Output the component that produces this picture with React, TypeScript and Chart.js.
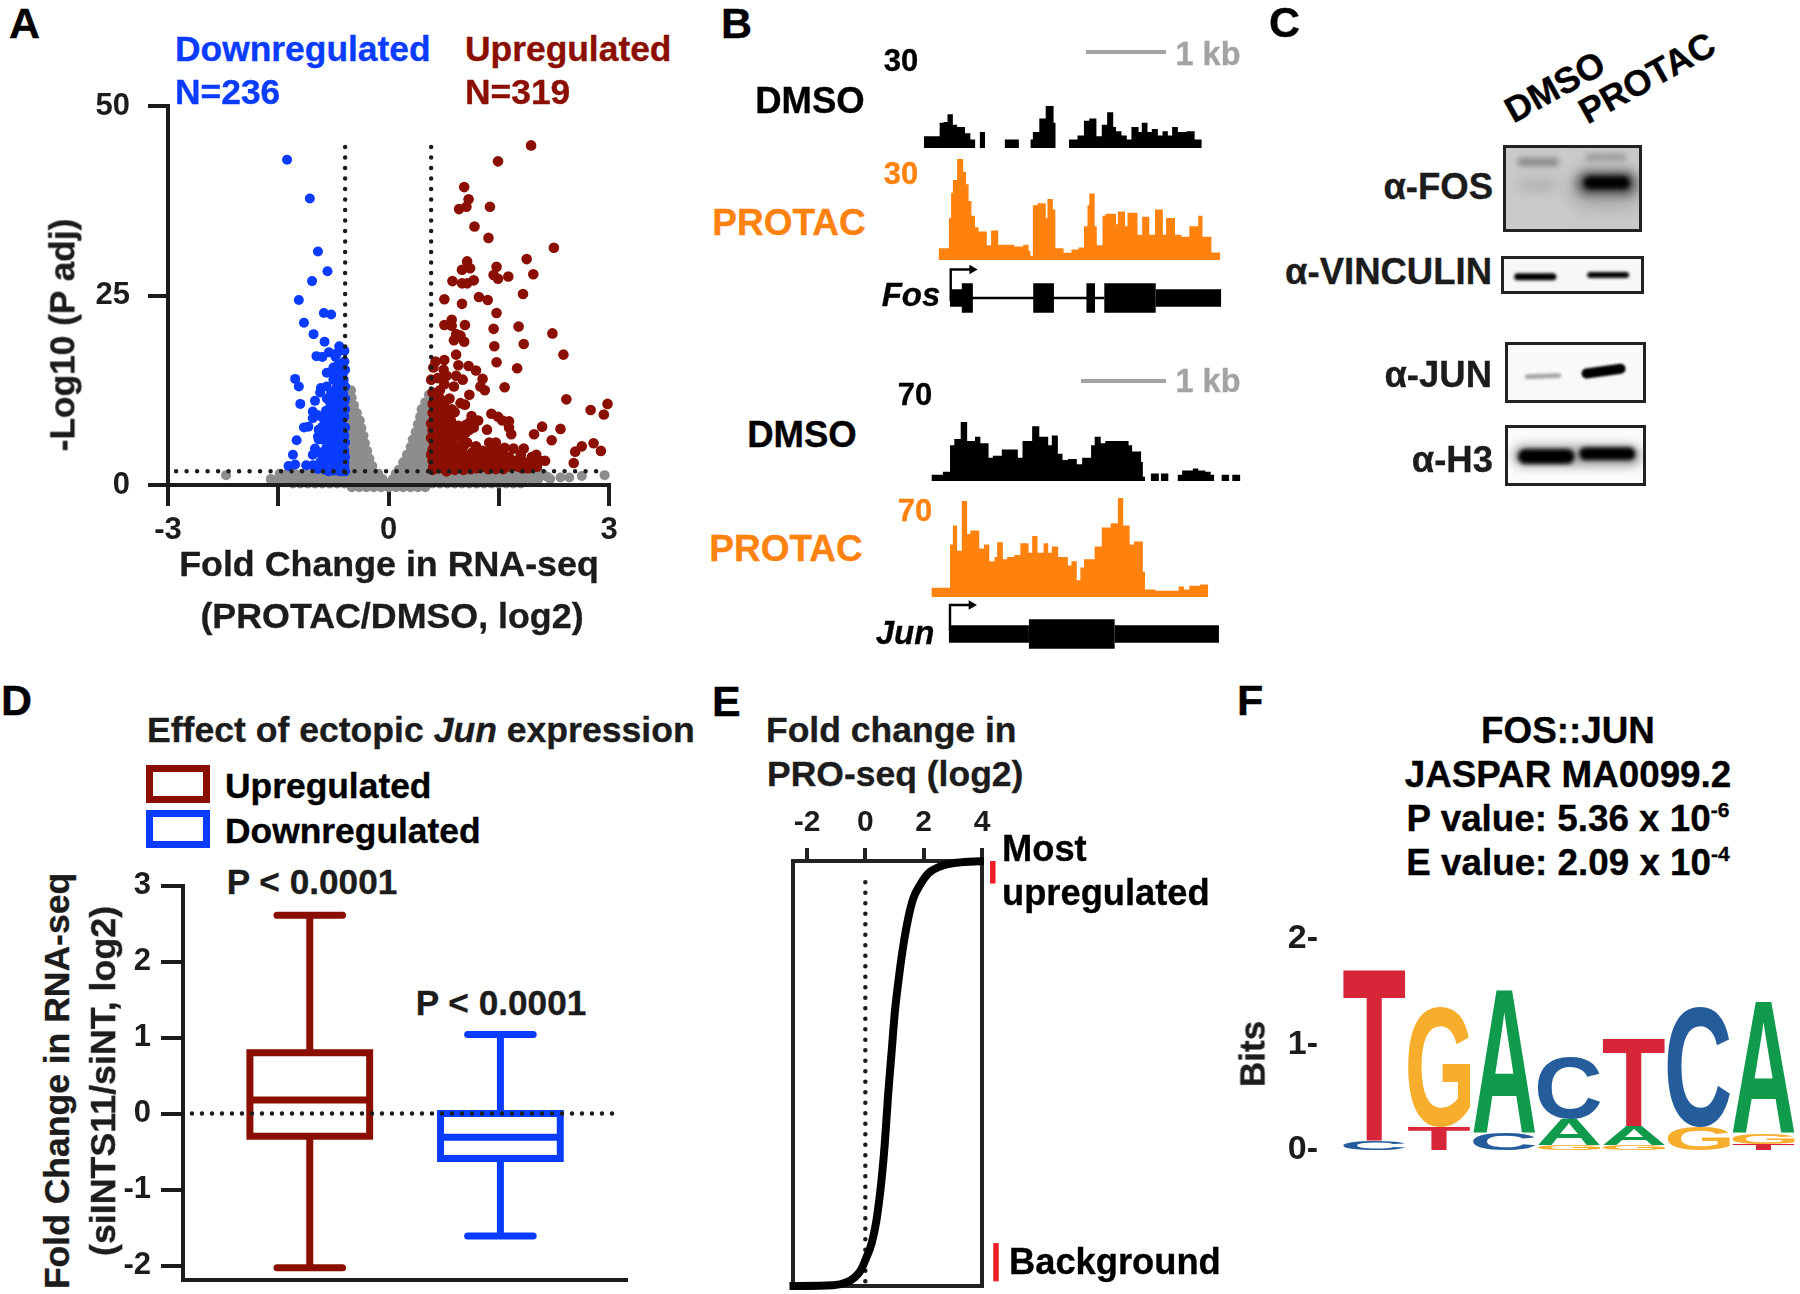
import React, { useEffect, useRef } from "react";
import { Chart, registerables } from "chart.js";

Chart.register(...registerables);

const FONT = '"Liberation Sans"';
const INK = "#1c1c1c";
const BLUE = "#0a3cff";
const RED = "#8b0f00";
const ORANGE = "#ff820f";
const GREY = "#8d8d8d";

/* ---------- Panel A: volcano ---------- */
const volcanoXTicks = [-3, -1.5, 0, 1.5, 3];
const volcanoYTicks = [0, 25, 50];
const foldCutoffs = [-0.59, 0.58];
const foldCutoffTop = 44.6;
const foldCutoffBottom = 0.6;
const pCutoff = 1.8;
const pCutoffFrom = -2.89;
const pCutoffTo = 2.93;

const downPoints = [
  [-1.38,42.9],[-1.07,37.8],[-0.96,30.8],[-0.83,28.2],[-1.04,26.9],[-1.22,24.4],[-0.88,22.7],[-0.78,22.5],[-1.15,21.4],[-1.02,19.9],
  [-0.87,18.9],[-0.67,18.3],[-0.81,17.5],[-0.98,17.0],[-0.9,16.9],[-0.72,16.9],[-0.6,17.7],[-0.69,15.8],[-0.6,16.3],[-0.75,15.5],
  [-0.84,14.8],[-0.65,15.0],[-0.59,15.2],[-1.27,14.0],[-1.22,13.0],[-0.75,13.9],[-0.84,13.0],[-0.69,13.3],[-0.92,12.8],[-0.61,13.9],
  [-0.59,13.0],[-0.78,12.2],[-0.66,12.2],[-0.93,12.2],[-1.0,11.1],[-1.2,10.7],[-0.84,11.4],[-0.69,11.1],[-0.59,11.4],[-0.75,10.6],
  [-1.03,9.7],[-0.96,9.2],[-0.81,10.0],[-0.66,9.7],[-0.59,10.0],[-0.9,8.9],[-0.75,8.9],[-0.63,8.7],[-1.03,8.8],[-1.09,7.7],
  [-1.15,7.6],[-0.95,7.3],[-0.81,7.6],[-0.69,7.6],[-0.59,7.6],[-0.96,6.4],[-0.87,6.7],[-0.75,6.5],[-0.63,6.5],[-1.25,5.9],
  [-0.95,6.0],[-0.81,5.6],[-0.69,5.4],[-0.59,5.6],[-1.0,4.8],[-0.87,4.5],[-0.75,4.3],[-0.63,4.5],[-1.3,4.0],[-1.03,4.0],
  [-0.9,3.5],[-0.78,3.2],[-0.66,3.5],[-0.59,3.7],[-1.27,2.7],[-1.36,2.5],[-1.12,2.6],[-1.03,2.6],[-0.87,2.4],[-0.72,2.4],
  [-0.6,2.5],[-0.81,1.8],[-0.96,2.1],[-0.66,1.8],[-0.59,1.8],[-0.7,3.0],[-0.65,2.6],[-0.72,6.0],[-0.66,5.5],[-0.62,7.0],
  [-0.7,8.2],[-0.65,10.5],[-0.72,11.8],[-0.62,12.2],[-0.78,8.0],[-0.8,9.0],[-0.72,9.5],[-0.85,9.8],[-0.85,7.0],[-0.78,5.5],
  [-0.83,3.6],[-0.7,4.8],[-0.6,3.0],[-0.6,4.5],[-0.6,6.5],[-0.6,9.0],[-0.6,11.0],[-0.66,14.2],[-0.73,14.6],[-0.62,14.7],
  [-0.68,2.1],[-0.74,2.8],[-0.76,3.7],[-0.68,4.1],[-0.72,5.2],[-0.65,6.1],[-0.7,6.9],[-0.66,7.4],[-0.64,8.0],[-0.68,8.9],
  [-0.62,9.4],[-0.7,10.1],[-0.64,11.3],[-0.72,12.5],[-0.7,13.0],[-0.64,13.0],[-0.8,6.4],[-0.77,7.1],[-0.83,8.2],[-0.9,6.0],
  [-0.92,4.2],[-0.84,5.0],[-0.8,4.1],[-0.9,7.7],[-0.8,11.0],[-0.86,2.0],[-0.74,1.9],[-0.93,3.0],[-0.64,15.9],[-0.7,17.4],
];

const upPoints = [
  [1.94,44.8],[1.49,42.7],[1.03,39.3],[1.09,37.7],[1.06,36.7],[0.96,36.4],[1.38,36.7],[1.17,34.1],[1.36,32.6],[2.25,31.3],
  [1.88,29.8],[1.07,29.5],[1.47,28.8],[1.0,28.4],[1.11,28.6],[1.43,27.7],[1.49,27.2],[1.63,27.5],[1.97,27.8],[0.87,26.9],
  [1.0,26.6],[1.07,26.6],[1.16,27.0],[1.83,25.2],[0.76,24.5],[1.23,24.8],[1.35,24.4],[1.0,23.9],[1.47,22.7],[0.86,21.8],
  [0.76,21.1],[0.86,21.0],[1.04,21.1],[1.77,20.9],[1.43,20.6],[2.23,20.0],[0.92,19.9],[0.98,19.7],[0.89,19.1],[1.03,18.9],
  [1.84,18.6],[1.44,18.3],[2.38,17.2],[0.92,17.2],[0.76,16.5],[0.64,16.3],[1.47,16.2],[1.75,15.4],[1.09,15.7],[0.95,15.8],
  [1.19,15.1],[0.75,15.2],[0.61,15.5],[0.92,14.4],[0.79,14.4],[1.01,13.9],[0.67,14.1],[0.58,13.9],[1.28,14.0],[1.25,13.0],
  [1.58,12.9],[1.31,12.5],[0.76,13.3],[0.89,13.0],[0.7,12.5],[0.6,12.2],[1.1,11.9],[0.98,10.8],[0.83,11.4],[0.7,11.4],
  [2.42,11.3],[0.86,10.0],[0.9,9.6],[1.04,10.6],[2.98,10.7],[2.75,9.9],[2.93,9.3],[1.4,9.4],[1.49,9.0],[1.13,9.1],
  [1.64,8.4],[1.55,8.5],[2.09,7.7],[2.34,7.4],[1.98,6.7],[2.22,5.9],[1.64,7.6],[1.22,8.5],[1.1,8.2],[1.16,7.6],
  [1.34,7.3],[1.67,6.7],[1.1,7.3],[2.63,5.1],[2.79,5.5],[2.89,4.5],[2.54,4.4],[2.52,2.9],[2.13,3.2],[1.95,3.7],
  [1.84,4.8],[2.01,4.0],[1.8,4.0],[1.7,4.8],[1.58,4.9],[1.46,5.6],[1.37,5.6],[1.19,5.1],[1.28,4.5],[1.64,3.7],
  [1.52,4.5],[1.4,4.8],[1.77,2.4],[1.98,2.6],[1.55,2.9],[1.31,3.2],[1.16,3.7],[1.04,4.0],[1.07,5.6],[0.95,6.7],
  [0.95,7.8],[0.83,7.3],[0.7,8.7],[0.58,8.1],[0.58,6.2],[0.7,7.0],[0.79,5.9],[0.64,5.1],[0.92,5.1],[0.83,4.3],
  [0.7,4.0],[0.58,4.0],[0.98,3.7],[1.1,2.9],[1.25,2.6],[1.4,2.4],[1.67,2.4],[0.92,2.6],[0.76,2.6],[0.61,2.4],
  [0.79,1.8],[0.6,9.5],[0.62,8.8],[0.66,9.8],[0.74,9.2],[0.8,9.6],[0.66,7.6],[0.76,8.0],[0.85,8.5],[0.62,6.8],
  [0.72,6.0],[0.85,6.4],[0.9,7.0],[0.62,5.4],[0.7,5.2],[0.82,5.2],[0.87,5.8],[0.6,3.2],[0.66,3.6],[0.74,3.4],
  [0.88,3.6],[0.62,2.4],[0.68,2.2],[0.74,2.2],[0.85,2.4],[0.9,2.0],[0.98,2.2],[1.05,2.4],[1.0,3.0],[1.1,3.6],
  [1.15,2.6],[1.22,3.6],[1.3,2.4],[1.35,3.6],[1.45,3.4],[1.5,2.4],[1.6,3.0],[1.7,3.2],[1.85,3.0],[1.9,2.2],
  [0.6,7.2],[0.65,6.1],[0.68,4.6],[0.6,4.7],[0.77,4.8],[0.78,3.0],[0.83,3.1],[0.94,3.2],[0.92,4.2],[0.98,4.6],
  [1.02,5.1],[1.0,6.2],[1.05,6.9],[0.78,6.8],[0.73,7.6],[0.88,7.7],[0.6,10.7],[0.68,10.4],[0.76,10.4],[0.65,11.0],
  [0.72,9.9],[1.06,3.1],[1.14,4.3],[1.2,3.0],[1.26,3.2],[1.24,4.1],[1.32,4.0],[1.38,3.0],[1.44,2.7],[1.44,4.1],
  [1.5,3.4],[1.56,3.8],[1.6,2.4],[1.72,2.6],[1.78,3.4],[1.94,2.9],[2.02,2.4],[2.06,3.2],[1.02,2.0],[1.12,2.1],
  [1.2,2.2],[1.36,2.1],[1.46,2.1],[1.56,2.1],[1.82,2.2],[0.6,2.0],[0.68,3.0],[0.74,4.2],[0.82,2.6],[1.05,7.9],
];

/* each row: y value, then the x values seen at that height */
const greyRows = [
  [12.5,-0.51],[11.9,0.55],[11.5,-0.56,-0.5],[10.9,0.5,0.55],
  [10.5,-0.57,-0.52,-0.47],[10,0.45,0.5,0.56],
  [9.5,-0.57,-0.52,-0.46,-0.43],[9,0.43,0.48,0.53,0.57],
  [8.5,-0.57,-0.52,-0.47,-0.42,-0.39],[8,0.4,0.45,0.5,0.55],
  [7.5,-0.57,-0.52,-0.47,-0.42,-0.37],[7,0.37,0.42,0.47,0.52,0.57],
  [6.5,-0.57,-0.52,-0.47,-0.42,-0.37,-0.34],[6,0.33,0.38,0.43,0.48,0.53,0.57],
  [5.5,-0.57,-0.52,-0.47,-0.42,-0.37,-0.32],[5,0.3,0.35,0.4,0.45,0.5,0.55],
  [4.5,-0.57,-0.52,-0.47,-0.42,-0.37,-0.32,-0.29],[4,0.25,0.3,0.35,0.4,0.45,0.5,0.55],
  [3.5,-0.57,-0.52,-0.47,-0.42,-0.37,-0.32,-0.26],[3,0.2,0.25,0.3,0.35,0.4,0.45,0.5,0.55],
  [2.5,-0.57,-0.52,-0.47,-0.42,-0.37,-0.32,-0.27,-0.22],[2,0.14,0.2,0.25,0.3,0.35,0.4,0.45,0.5,0.55],
  [1.5,-1.48,-1.38,-1.28,-1.18,-1.08,-0.98,-0.88,-0.78,-0.68,-0.58,-0.48,-0.38,-0.28,-0.2,-0.14,0.1,0.2,0.3,0.4,0.5,0.6,0.7,0.8,0.9,1.0,1.1,1.2,1.3,1.4,1.5,1.6,1.7,1.8,1.9,2.0,2.1],
  [0.8,-1.6,-1.5,-1.4,-1.3,-1.2,-1.1,-1.0,-0.9,-0.8,-0.7,-0.6,-0.5,-0.4,-0.3,-0.2,-0.12,-0.08,0.06,0.14,0.24,0.34,0.44,0.54,0.64,0.74,0.84,0.94,1.04,1.14,1.24,1.34,1.44,1.54,1.64,1.74,1.84,1.94,2.04,2.2],
  [0.2,-1.3,-1.2,-1.1,-1.0,-0.9,-0.8,-0.7,-0.6,-0.5,-0.4,-0.3,-0.2,-0.1,0.0,0.1,0.2,0.3,0.4,0.5,0.6,0.7,0.8,0.9,1.0,1.1,1.2,1.3,1.4,1.5,1.6,1.7,1.8],
  [-0.3,-0.5,-0.4,-0.3,-0.2,-0.1,0.0,0.1,0.2,0.3,0.4,0.5],
  [1.3,-2.21,2.94],[0.7,-1.6],[1.1,2.16],[1.0,2.34,2.46],[1.2,2.63],
];

/* ---------- Panel B: browser tracks, [bin start, signal]; null = no signal ---------- */
const fosDmso = [[627,28],[671,60],[682,62],[693,80],[708,55],[720,50],[742,35],[757,20],[771,null],[783,38],[798,null],[853,20],[893,null],[925,20],[932,38],[950,70],[968,100],[990,60],[996,null],[1033,20],[1057,30],[1075,65],[1090,70],[1110,28],[1125,55],[1140,85],[1157,50],[1165,40],[1180,30],[1195,20],[1208,50],[1228,38],[1237,60],[1253,38],[1265,45],[1282,30],[1295,40],[1310,30],[1322,50],[1338,38],[1362,40],[1385,20],[1405,null]];
const fosProtac = [[668,28],[697,100],[703,160],[708,190],[720,240],[737,210],[745,180],[752,140],[760,105],[770,78],[780,68],[803,35],[815,70],[835,36],[880,32],[905,36],[920,22],[925,10],[932,130],[945,135],[968,100],[973,145],[988,120],[995,28],[1018,17],[1040,25],[1060,30],[1075,80],[1085,130],[1090,158],[1105,80],[1111,35],[1127,105],[1135,110],[1165,85],[1170,115],[1190,80],[1197,112],[1225,60],[1238,103],[1258,60],[1274,120],[1296,60],[1305,100],[1330,60],[1348,55],[1370,80],[1395,105],[1407,55],[1432,18],[1457,null]];
const junDmso = [[648,15],[680,22],[700,85],[712,100],[730,140],[748,95],[770,105],[785,90],[808,55],[820,60],[845,75],[890,55],[903,95],[930,130],[950,105],[975,85],[985,108],[1002,65],[1015,50],[1030,52],[1055,40],[1070,55],[1095,85],[1105,105],[1122,90],[1135,95],[1200,85],[1210,70],[1235,45],[1240,10],[1246,null],[1262,18],[1285,null],[1290,18],[1312,null],[1337,15],[1350,25],[1380,30],[1395,25],[1415,22],[1430,15],[1440,null],[1460,15],[1482,null],[1490,15],[1513,null]];
const junProtac = [[648,22],[700,125],[708,170],[720,110],[733,228],[748,150],[757,158],[782,115],[795,125],[810,85],[825,95],[832,130],[848,90],[860,95],[880,100],[897,128],[920,105],[930,145],[945,105],[962,128],[975,105],[985,120],[1003,95],[1030,75],[1040,85],[1055,40],[1065,70],[1075,90],[1105,120],[1125,165],[1150,175],[1170,235],[1185,170],[1203,125],[1215,132],[1240,60],[1246,18],[1275,15],[1340,25],[1355,18],[1370,27],[1400,30],[1423,null]];

const fosUtrBlocks = [[700,735],[1276,1459]];
const fosExonBlocks = [[733,764],[933,991],[1082,1106],[1132,1276]];
const fosIntron = [735, 1132];
const fosTss = [[702,46],[702,14.5],[762,14.5]];
const junUtrBlocks = [[697,921],[1161,1453]];
const junExonBlocks = [[921,1161]];
const junTss = [[700,41],[700,15],[760,15]];

/* ---------- Panel C: blots, [x0, x1, y0, y1, thickness, colour, blur] ---------- */
const blotFos = [
  [990,1090,548,548,13,"#000000",2.5],[985,1095,550,550,24,"#5a5a5a",5],[985,1095,565,565,40,"#aaaaaa",9],
  [985,1090,472,472,6,"#8f8f8f",3],[782,885,485,485,7,"#7d7d7d",3],[790,870,555,555,12,"#b0b0b0",6],
];
const blotVinculin = [[772,878,830,830,7,"#000000",1.5],[990,1098,825,825,6,"#050505",1.5]];
const blotJun = [[800,895,1130,1126,4.5,"#a0a0a0",1.8],[978,1080,1120,1106,10,"#000000",1.2]];
const blotH3 = [[795,920,1370,1370,15,"#000000",2],[975,1105,1362,1362,13,"#000000",2],[790,1110,1368,1368,22,"#a8a8a8",5]];

/* ---------- Panel D: box plots ---------- */
const boxGroups = [1, 2];
const boxColors = [RED, BLUE];
const boxMax = [2.61, 1.04];
const boxQ3 = [0.8, 0.0];
const boxMedian = [0.18, -0.31];
const boxQ1 = [-0.3, -0.59];
const boxMin = [-2.03, -1.61];
const boxYTicks = [-2, -1, 0, 1, 2, 3];

/* ---------- Panel E: ranked fold change ---------- */
const rankFoldChange = [-2.6,-1.11,-0.66,-0.37,-0.14,0.03,0.21,0.38,0.55,0.67,0.78,0.9,1.01,1.15,1.3,1.47,1.64,1.87,2.16,2.56,3.14,4.06];
const rankPercent = [0,0.18,0.83,2.0,3.9,6.6,9.9,15.4,24.6,33.8,44.9,55.0,64.3,72.6,80.0,86.5,91.1,94.3,97.1,98.7,99.6,100];
const rankXTicks = [-2, 0, 2, 4];

/* ---------- Panel F: sequence logo, stacked from the baseline up ---------- */
const logoPositions = ["1", "2", "3", "4", "5", "6", "7"];
const logoLetters = [
  ["C", "T", "C", "G", "G", "G", "T"],
  ["T", "G", "A", "A", "A", "C", "G"],
  ["",  "",  "",  "C", "T", "",  "A"],
];
const logoBits = [
  [0.085, 0.22, 0.16, 0.05, 0.05, 0.22, 0.06],
  [1.62, 1.13, 1.35, 0.24, 0.18, 1.13, 0.1],
  [0, 0, 0, 0.58, 0.83, 0, 1.24],
];
const logoColors: any = { T: "#d72638", G: "#f7ae2d", A: "#0f9a4c", C: "#255c9c" };

/* ---------- helpers ---------- */
const base = (padding: any, extra: any = {}) => ({
  animation: false,
  responsive: false,
  maintainAspectRatio: false,
  layout: { padding, autoPadding: false },
  plugins: { legend: { display: false }, tooltip: { enabled: false } },
  ...extra,
});

const noPad = (s: any) => { s.paddingTop = 0; s.paddingBottom = 0; s.paddingLeft = 0; s.paddingRight = 0; };

const tickFont = (size: number) => ({ family: FONT, weight: "bold", size });

const lineSet = (data: any[], color: string, width: number, extra: any = {}) => ({
  type: "scatter",
  data,
  showLine: true,
  tension: 0,
  borderColor: color,
  borderWidth: width,
  pointRadius: 0,
  clip: false,
  ...extra,
});

const dotted = (data: any[], width = 4.5, gap = 10.5) =>
  lineSet(data, "#1c1c1c", width, { borderDash: [0, gap], borderCapStyle: "round" });

const dots = (data: any[], color: string, r: number) => ({
  type: "scatter",
  data,
  pointRadius: r,
  pointBackgroundColor: color,
  pointBorderWidth: 0,
  clip: false,
});

const xy = (pairs: number[][]) => pairs.map(([x, y]) => ({ x, y }));

const volcanoConfig = () => {
  const greyPoints: any[] = [];
  greyRows.forEach(([y, ...xs]) => xs.forEach((x) => greyPoints.push({ x, y })));
  return {
    type: "scatter",
    data: {
      datasets: [
        dotted([{ x: foldCutoffs[0], y: foldCutoffTop }, { x: foldCutoffs[0], y: foldCutoffBottom }]),
        dotted([{ x: foldCutoffs[1], y: foldCutoffTop }, { x: foldCutoffs[1], y: foldCutoffBottom }]),
        dotted([{ x: pCutoffFrom, y: pCutoff }, { x: pCutoffTo, y: pCutoff }]),
        dots(xy(upPoints), RED, 5.3),
        dots(xy(downPoints), BLUE, 5),
        dots(greyPoints, GREY, 5),
      ],
    },
    options: base({ top: 16, right: 31, left: 0, bottom: 0 }, {
      scales: {
        x: {
          type: "linear", min: -3, max: 3,
          afterFit: (s: any) => { s.height = 60; noPad(s); },
          afterBuildTicks: (s: any) => { s.ticks = volcanoXTicks.map((value) => ({ value })); },
          grid: { drawOnChartArea: false, color: INK, lineWidth: 4, tickLength: 21 },
          border: { display: true, color: INK, width: 4, z: 1 },
          ticks: { color: INK, font: tickFont(31), padding: 6, maxRotation: 0, autoSkip: false,
            callback: (v: number) => (Math.abs(v) === 1.5 ? "" : String(v)) },
        },
        y: {
          type: "linear", min: 0, max: 50,
          afterFit: (s: any) => { s.width = 88; noPad(s); },
          afterBuildTicks: (s: any) => { s.ticks = volcanoYTicks.map((value) => ({ value })); },
          grid: { drawOnChartArea: false, color: INK, lineWidth: 4, tickLength: 20 },
          border: { display: true, color: INK, width: 4, z: 1 },
          ticks: { color: INK, font: tickFont(31), padding: 18, callback: (v: number) => String(v) },
        },
      },
    }),
  };
};

const toSteps = (segs: any[]) => {
  const pts: any[] = [];
  segs.forEach(([s, v]: any, i: number) => {
    if (v === null) { pts.push({ x: s, y: null }); return; }
    pts.push({ x: s, y: v }, { x: segs[i + 1][0], y: v });
  });
  return pts;
};

const hiddenScales = (xMin: number, xMax: number, yMin: number, yMax: number, reverse = false) => ({
  x: { type: "linear", display: false, min: xMin, max: xMax },
  y: { type: "linear", display: false, min: yMin, max: yMax, reverse },
});

const trackConfig = (segs: any[], color: string) => ({
  type: "scatter",
  data: {
    datasets: [
      lineSet(toSteps(segs), color, 0, { fill: "origin", backgroundColor: color, clip: true }),
    ],
  },
  options: base(0, { scales: hiddenScales(599.2, 1528.8, 0, 261.4) }),
});

const geneConfig = (exons: number[][], utrs: number[][], intron: number[] | null, tss: number[][], centre: number) => {
  const row = (a: number, b: number) => [{ x: a, y: centre }, { x: b, y: centre }];
  const datasets: any[] = [];
  exons.forEach(([a, b]) => datasets.push(lineSet(row(a, b), "#000", 29.5)));
  utrs.forEach(([a, b]) => datasets.push(lineSet(row(a, b), "#000", 17.5)));
  if (intron) datasets.push(lineSet(row(intron[0], intron[1]), "#000", 2.6));
  datasets.push(
    lineSet(xy(tss), "#000", 2.4, {
      pointRadius: tss.map((_, i) => (i === tss.length - 1 ? 5.5 : 0)),
      pointStyle: "triangle",
      pointRotation: 90,
      pointBackgroundColor: "#000",
      pointBorderWidth: 0,
    })
  );
  return {
    type: "scatter",
    data: { datasets },
    options: base(0, { scales: hiddenScales(599.2, 1528.8, 0, 70, true) }),
  };
};

const blurPlugin = {
  id: "bandBlur",
  beforeDatasetDraw(chart: any, args: any) {
    const ds = chart.data.datasets[args.index];
    chart.ctx.save();
    chart.ctx.filter = `blur(${ds.bandBlur || 0}px)`;
  },
  afterDatasetDraw(chart: any) {
    chart.ctx.restore();
  },
};

const blotConfig = (bands: any[], range: number[]) => ({
  type: "scatter",
  data: {
    datasets: bands.map(([x0, x1, y0, y1, w, c, b]) =>
      lineSet([{ x: x0, y: y0 }, { x: x1, y: y1 }], c, w, { borderCapStyle: "round", bandBlur: b, clip: true })
    ),
  },
  options: base(0, { scales: hiddenScales(range[0], range[1], range[2], range[3], true) }),
  plugins: [blurPlugin],
});

const boxConfig = () => {
  const datasets: any[] = [
    dotted([{ x: 0.382, y: 0 }, { x: 2.63, y: 0 }], 4.5, 10),
  ];
  boxGroups.forEach((g, i) => {
    const c = boxColors[i];
    const hw = 0.314;
    const cw = 0.172;
    const w = 7;
    datasets.push(
      lineSet([{ x: g - hw, y: boxQ1[i] }, { x: g - hw, y: boxQ3[i] }, { x: g + hw, y: boxQ3[i] }, { x: g + hw, y: boxQ1[i] }, { x: g - hw, y: boxQ1[i] }], c, w, { borderJoinStyle: "miter", borderCapStyle: "square" }),
      lineSet([{ x: g - hw, y: boxMedian[i] }, { x: g + hw, y: boxMedian[i] }], c, w),
      lineSet([{ x: g, y: boxQ3[i] }, { x: g, y: boxMax[i] }], c, w),
      lineSet([{ x: g, y: boxQ1[i] }, { x: g, y: boxMin[i] }], c, w),
      lineSet([{ x: g - cw, y: boxMax[i] }, { x: g + cw, y: boxMax[i] }], c, w, { borderCapStyle: "round" }),
      lineSet([{ x: g - cw, y: boxMin[i] }, { x: g + cw, y: boxMin[i] }], c, w, { borderCapStyle: "round" })
    );
  });
  return {
    type: "scatter",
    data: { datasets },
    options: base({ top: 15.6, right: 13, left: 0, bottom: 14 }, {
      scales: {
        x: {
          type: "linear", min: 0.335, max: 2.664,
          afterFit: (s: any) => { s.height = 0; noPad(s); },
          grid: { display: false },
          border: { display: true, color: INK, width: 4 },
          ticks: { display: false },
        },
        y: {
          type: "linear", min: -2.19, max: 3,
          afterFit: (s: any) => { s.width = 63; noPad(s); },
          afterBuildTicks: (s: any) => { s.ticks = boxYTicks.map((value) => ({ value })); },
          grid: { drawOnChartArea: false, color: INK, lineWidth: 4, tickLength: 22 },
          border: { display: true, color: INK, width: 4 },
          ticks: { color: INK, font: tickFont(31), padding: 10, callback: (v: number) => String(v) },
        },
      },
    }),
  };
};

const rankConfig = () => ({
  type: "scatter",
  data: {
    datasets: [
      lineSet(rankFoldChange.map((x, i) => ({ x, y: rankPercent[i] })), "#000", 8, { cubicInterpolationMode: "monotone" }),
      dotted([{ x: 0, y: 95 }, { x: 0, y: 0 }], 4.5, 10.5),
      lineSet([{ x: -2.48, y: 0 }, { x: -2.48, y: 100 }, { x: 4, y: 100 }, { x: 4, y: 0 }, { x: -2.48, y: 0 }], "#222", 4, { borderJoinStyle: "miter" }),
      lineSet([{ x: 4.37, y: 94.7 }, { x: 4.37, y: 100 }], "#ee1c25", 5.5),
      lineSet([{ x: 4.48, y: 1.1 }, { x: 4.48, y: 10.1 }], "#ee1c25", 5.5),
    ],
  },
  options: base({ top: 0, right: 38, left: 13, bottom: 8 }, {
    scales: {
      x: {
        type: "linear", position: "top", min: -2.48, max: 4,
        afterFit: (s: any) => { s.height = 61; noPad(s); },
        afterBuildTicks: (s: any) => { s.ticks = rankXTicks.map((value) => ({ value })); },
        grid: { drawOnChartArea: false, color: "#222", lineWidth: 4, tickLength: 13 },
        border: { display: false },
        ticks: { color: INK, font: tickFont(30), padding: 7, callback: (v: number) => String(v) },
      },
      y: { type: "linear", display: false, min: 0, max: 100 },
    },
  }),
});

const letterPlugin = {
  id: "logoLetters",
  afterDatasetsDraw(chart: any) {
    const ctx = chart.ctx;
    chart.data.datasets.forEach((ds: any, di: number) => {
      chart.getDatasetMeta(di).data.forEach((bar: any, j: number) => {
        const letter = ds.letters[j];
        if (!letter || !ds.data[j]) return;
        ctx.save();
        ctx.font = `bold 200px ${FONT}`;
        ctx.textBaseline = "alphabetic";
        const m = ctx.measureText(letter);
        const gw = m.actualBoundingBoxLeft + m.actualBoundingBoxRight;
        const gh = m.actualBoundingBoxAscent + m.actualBoundingBoxDescent;
        const h = Math.abs(bar.base - bar.y);
        ctx.translate(bar.x - bar.width / 2, Math.min(bar.y, bar.base));
        ctx.scale(bar.width / gw, h / gh);
        ctx.fillStyle = logoColors[letter];
        ctx.fillText(letter, m.actualBoundingBoxLeft, m.actualBoundingBoxAscent);
        ctx.restore();
      });
    });
  },
};

const logoConfig = () => ({
  type: "bar",
  data: {
    labels: logoPositions,
    datasets: logoBits.map((data, i) => ({
      data,
      letters: logoLetters[i],
      backgroundColor: "rgba(0,0,0,0)",
      barPercentage: 0.96,
      categoryPercentage: 1,
    })),
  },
  options: base({ top: 13.7, right: 4, left: 0, bottom: 15 }, {
    scales: {
      x: { stacked: true, display: false },
      y: {
        stacked: true, min: 0, max: 2,
        afterFit: (s: any) => { s.width = 72; noPad(s); },
        grid: { display: false },
        border: { display: false },
        ticks: { stepSize: 1, color: INK, font: tickFont(34), padding: 16, callback: (v: number) => `${v}-` },
      },
    },
  }),
  plugins: [letterPlugin],
});

function Plot({ x, y, w, h, config, style }: any) {
  const ref = useRef<HTMLCanvasElement>(null);
  useEffect(() => {
    const c = new Chart(ref.current as any, config());
    return () => c.destroy();
  }, []);
  return <canvas ref={ref} width={w} height={h} style={{ position: "absolute", left: x, top: y, width: w, height: h, ...style }} />;
}

function T({ x, y, size = 36, color = INK, italic, anchor = "start", rot = 0, children }: any) {
  const tx = anchor === "middle" ? -50 : anchor === "end" ? -100 : 0;
  return (
    <div
      style={{
        position: "absolute", left: x, top: y, color, whiteSpace: "nowrap", lineHeight: 1,
        font: `${italic ? "italic " : ""}bold ${size}px/1 ${FONT}`,
        WebkitTextStroke: `0.35px ${color}`,
        transform: `translate(${tx}%,-50%) rotate(${rot}deg)`,
      }}
    >
      {children}
    </div>
  );
}

const Sup = ({ children }: any) => (
  <sup style={{ fontSize: 21, lineHeight: 0, verticalAlign: "baseline", position: "relative", top: -14 }}>{children}</sup>
);

const Frame = ({ x, y, w, h, color = "#222", width = 3.5 }: any) => (
  <div style={{ position: "absolute", left: x, top: y, width: w, height: h, boxSizing: "border-box", border: `${width}px solid ${color}` }} />
);

const Bar = ({ x, y, w }: any) => (
  <div style={{ position: "absolute", left: x, top: y, width: w, height: 3.5, background: "#a3a3a3" }} />
);

export default function App() {
  return (
    <div style={{ position: "absolute", left: 0, top: 0, width: 1800, height: 1294, background: "#fff", overflow: "hidden" }}>
      {/* A */}
      <T x={9} y={23} size={43} color="#000">A</T>
      <Plot x={80} y={90} w={560} h={455} config={volcanoConfig} />
      <T x={175} y={50} size={35.4} color={BLUE}>Downregulated</T>
      <T x={175} y={93} size={35.4} color={BLUE}>N=236</T>
      <T x={465} y={50} size={35.4} color={RED}>Upregulated</T>
      <T x={465} y={93} size={35.4} color={RED}>N=319</T>
      <T x={389} y={565} size={35.8} anchor="middle">Fold Change in RNA-seq</T>
      <T x={392} y={617} size={35.8} anchor="middle">(PROTAC/DMSO, log2)</T>
      <T x={62} y={335} size={35.3} anchor="middle" rot={-90}>-Log10 (P adj)</T>

      {/* B */}
      <T x={721} y={23} size={43} color="#000">B</T>
      <Plot x={914} y={38} w={332} h={110} config={() => trackConfig(fosDmso, "#000")} />
      <Plot x={914} y={150} w={332} h={110} config={() => trackConfig(fosProtac, ORANGE)} />
      <Plot x={914} y={255} w={332} h={70} config={() => geneConfig(fosExonBlocks, fosUtrBlocks, fosIntron, fosTss, 43)} />
      <Plot x={914} y={371} w={332} h={110} config={() => trackConfig(junDmso, "#000")} />
      <Plot x={914} y={487} w={332} h={110} config={() => trackConfig(junProtac, ORANGE)} />
      <Plot x={914} y={590} w={332} h={70} config={() => geneConfig(junExonBlocks, junUtrBlocks, null, junTss, 44)} />
      <T x={901} y={60} size={31} color="#000" anchor="middle">30</T>
      <T x={810} y={101} size={36.5} color="#000" anchor="middle">DMSO</T>
      <T x={901} y={173} size={31} color={ORANGE} anchor="middle">30</T>
      <T x={789} y={222} size={37} color={ORANGE} anchor="middle">PROTAC</T>
      <T x={911} y={294} size={33} color="#000" anchor="middle" italic>Fos</T>
      <Bar x={1086} y={50} w={80} />
      <T x={1208} y={54} size={32.5} color="#a3a3a3" anchor="middle">1 kb</T>
      <T x={915} y={394} size={31} color="#000" anchor="middle">70</T>
      <T x={802} y={435} size={36.5} color="#000" anchor="middle">DMSO</T>
      <T x={915} y={510} size={31} color={ORANGE} anchor="middle">70</T>
      <T x={786} y={548} size={37} color={ORANGE} anchor="middle">PROTAC</T>
      <T x={905} y={632} size={33} color="#000" anchor="middle" italic>Jun</T>
      <Bar x={1081} y={379} w={85} />
      <T x={1208} y={381} size={32.5} color="#a3a3a3" anchor="middle">1 kb</T>

      {/* C */}
      <T x={1269} y={22} size={43} color="#000">C</T>
      <T x={1555} y={87} size={36} color="#000" anchor="middle" rot={-29}>DMSO</T>
      <T x={1647} y={78} size={36} color="#000" anchor="middle" rot={-29}>PROTAC</T>
      <Plot x={1503} y={145} w={139} h={87} config={() => blotConfig(blotFos, [728, 1146, 434, 696])} style={{ background: "#cacaca" }} />
      <Frame x={1503} y={145} w={139} h={87} />
      <Plot x={1501} y={256} w={143} h={38} config={() => blotConfig(blotVinculin, [722, 1152, 768, 882])} style={{ background: "#f7f7f7" }} />
      <Frame x={1501} y={256} w={143} h={38} />
      <Plot x={1505} y={342} w={141} h={61} config={() => blotConfig(blotJun, [734, 1156, 1026, 1208])} style={{ background: "#f9f9f9" }} />
      <Frame x={1505} y={342} w={141} h={61} />
      <Plot x={1505} y={425} w={141} h={61} config={() => blotConfig(blotH3, [734, 1156, 1276, 1458])} style={{ background: "#fbfbfb" }} />
      <Frame x={1505} y={425} w={141} h={61} />
      <T x={1493} y={187} size={36.5} color={INK} anchor="end">α-FOS</T>
      <T x={1492} y={272} size={36.5} color={INK} anchor="end">α-VINCULIN</T>
      <T x={1492} y={375} size={36.5} color={INK} anchor="end">α-JUN</T>
      <T x={1493} y={460} size={36.5} color={INK} anchor="end">α-H3</T>

      {/* D */}
      <T x={1} y={700} size={43} color="#000">D</T>
      <T x={147} y={731} size={35.6}>Effect of ectopic <i>Jun</i> expression</T>
      <Frame x={146} y={765} w={64} h={38} color={RED} width={7} />
      <Frame x={146} y={810} w={64} h={38} color={BLUE} width={7} />
      <T x={225} y={787} size={35.4} color="#000">Upregulated</T>
      <T x={225} y={832} size={35.4} color="#000">Downregulated</T>
      <T x={312} y={882} size={35.2} anchor="middle">P &lt; 0.0001</T>
      <T x={501} y={1003} size={35.2} anchor="middle">P &lt; 0.0001</T>
      <Plot x={120} y={870} w={520} h={424} config={boxConfig} />
      <T x={58} y={1081} size={35.5} anchor="middle" rot={-90}>Fold Change in RNA-seq</T>
      <T x={104} y={1081} size={35.8} anchor="middle" rot={-90}>(siINTS11/siNT, log2)</T>

      {/* E */}
      <T x={712} y={701} size={43} color="#000">E</T>
      <T x={766} y={731} size={35.5}>Fold change in</T>
      <T x={767} y={775} size={35.5}>PRO-seq (log2)</T>
      <Plot x={780} y={800} w={240} h={494} config={rankConfig} />
      <T x={1002} y={849} size={36.3} color="#000">Most</T>
      <T x={1002} y={893} size={36.3} color="#000">upregulated</T>
      <T x={1009} y={1262} size={36.3} color="#000">Background</T>

      {/* F */}
      <T x={1237} y={700} size={43} color="#000">F</T>
      <T x={1568} y={731} size={36.8} color="#000" anchor="middle">FOS::JUN</T>
      <T x={1568} y={775} size={36.8} color="#000" anchor="middle">JASPAR MA0099.2</T>
      <T x={1568} y={819} size={36.8} color="#000" anchor="middle">P value: 5.36 x 10<Sup>-6</Sup></T>
      <T x={1568} y={863} size={36.8} color="#000" anchor="middle">E value: 2.09 x 10<Sup>-4</Sup></T>
      <Plot x={1270} y={925} w={530} h={240} config={logoConfig} />
      <T x={1252} y={1054} size={35} anchor="middle" rot={-90}>Bits</T>
    </div>
  );
}
